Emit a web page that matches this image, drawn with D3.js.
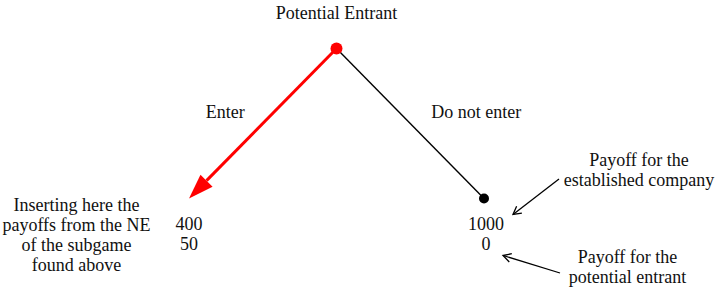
<!DOCTYPE html>
<html>
<head>
<meta charset="utf-8">
<script src="https://cdn.jsdelivr.net/npm/d3@7"></script>
<style>
  body { margin: 0; background: #fff; }
  text { font-family: "Liberation Serif", serif; font-size: 18px; fill: #111; }
</style>
</head>
<body>
<svg width="715" height="289"></svg>
<script>
var width = 715;
var height = 289;

// game tree data
var player = "Potential Entrant";
var actions = ["Enter", "Do not enter"];
var actionPos = [-1, 1]; // left / right child
var payoffEstablished = [400, 1000];
var payoffEntrant = [50, 0];

// notes
var noteLeft = ["Inserting here the", "payoffs from the NE", "of the subgame", "found above"];
var noteEstablished = ["Payoff for the", "established company"];
var noteEntrant = ["Payoff for the", "potential entrant"];

var svg = d3.select("svg");

// tree position -> pixels
var xScale = d3.scaleLinear().domain([-1, 1]).range([189, 484]);
var yScale = d3.scaleLinear().domain([0, 1]).range([48.5, 198.5]);

var root = { x: xScale(0), y: yScale(0) };
var kids = actionPos.map((p, i) => ({
  x: xScale(p),
  y: yScale(1),
  action: actions[i],
  est: payoffEstablished[i],
  ent: payoffEntrant[i],
  side: p
}));

// the "Enter" branch is the red arrow, "Do not enter" a plain black line
var left = kids[0];
var ang = Math.atan2(left.y - root.y, left.x - root.x);
var headLen = 25, headW = 8.5;
var baseX = left.x - headLen * Math.cos(ang);
var baseY = left.y - headLen * Math.sin(ang);

svg.append("line")
  .attr("x1", root.x).attr("y1", root.y)
  .attr("x2", baseX).attr("y2", baseY)
  .attr("stroke", "#ff0000")
  .attr("stroke-width", 3);

svg.append("polygon")
  .attr("points", [
    [left.x, left.y],
    [baseX + headW * Math.sin(ang), baseY - headW * Math.cos(ang)],
    [baseX - headW * Math.sin(ang), baseY + headW * Math.cos(ang)]
  ].map((p) => p.join(",")).join(" "))
  .attr("fill", "#ff0000");

var right = kids[1];
svg.append("line")
  .attr("x1", root.x).attr("y1", root.y)
  .attr("x2", right.x).attr("y2", right.y)
  .attr("stroke", "#000")
  .attr("stroke-width", 1.4);

svg.append("circle")
  .attr("cx", right.x).attr("cy", right.y)
  .attr("r", 5)
  .attr("fill", "#000");

svg.append("circle")
  .attr("cx", root.x).attr("cy", root.y)
  .attr("r", 6)
  .attr("fill", "#ff0000");

// player label
svg.append("text")
  .attr("x", root.x)
  .attr("y", root.y - 29.5)
  .style("text-anchor", "middle")
  .text(player);

// action labels, placed beside the branch midpoint
var labY = yScale(0.46);
kids.forEach((k) => {
  var bx = root.x + (k.x - root.x) * (labY - root.y) / (k.y - root.y);
  svg.append("text")
    .attr("x", k.side < 0 ? bx - 24 : bx + 27)
    .attr("y", labY)
    .style("text-anchor", k.side < 0 ? "end" : "start")
    .text(k.action);
});

// payoffs under each terminal node
svg.selectAll("text.pay")
  .data(kids)
  .enter()
  .append("text")
  .attr("class", "pay")
  .attr("x", (d) => d.x + (d.side < 0 ? 0 : 2))
  .attr("y", (d) => d.y + 31.5)
  .style("text-anchor", "middle")
  .selectAll("tspan")
  .data((d) => [d.est, d.ent])
  .enter()
  .append("tspan")
  .attr("x", function () { return d3.select(this.parentNode).attr("x"); })
  .attr("dy", (d, i) => (i === 0 ? 0 : 20))
  .text((d) => d);

function block(lines, cx, y0) {
  var t = svg.append("text")
    .attr("x", cx)
    .attr("y", y0)
    .style("text-anchor", "middle");
  t.selectAll("tspan")
    .data(lines)
    .enter()
    .append("tspan")
    .attr("x", cx)
    .attr("dy", (d, i) => (i === 0 ? 0 : 20))
    .text((d) => d);
}

block(noteLeft, 76.5, 211);
block(noteEstablished, 639, 166);
block(noteEntrant, 627.5, 263);

// open-headed callout arrows
function callout(x1, y1, x2, y2) {
  var a = Math.atan2(y2 - y1, x2 - x1);
  var len = 9, spread = 0.5;
  svg.append("line")
    .attr("x1", x1).attr("y1", y1)
    .attr("x2", x2).attr("y2", y2)
    .attr("stroke", "#000")
    .attr("stroke-width", 1.3);
  svg.append("polyline")
    .attr("points", [
      [x2 - len * Math.cos(a - spread), y2 - len * Math.sin(a - spread)],
      [x2, y2],
      [x2 - len * Math.cos(a + spread), y2 - len * Math.sin(a + spread)]
    ].map((p) => p.join(",")).join(" "))
    .attr("fill", "none")
    .attr("stroke", "#000")
    .attr("stroke-width", 1.3);
}

callout(559, 179, right.x + 29, right.y + 16);
callout(560, 273, right.x + 19, right.y + 57);
</script>
</body>
</html>
